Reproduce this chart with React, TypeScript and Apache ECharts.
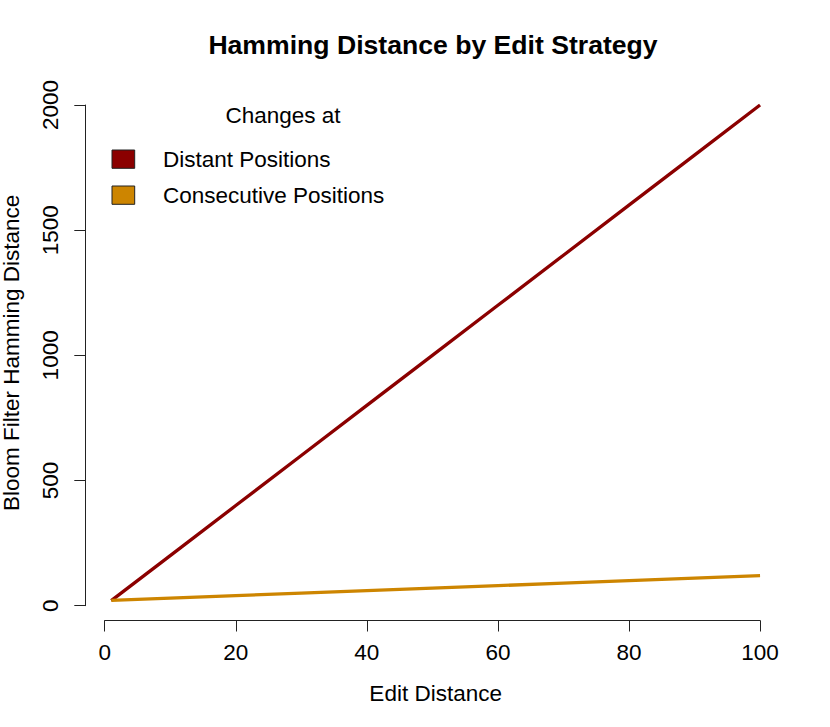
import React, { useEffect, useRef } from "react";
import * as echarts from "echarts";

const editDistance = [1, 10, 20, 30, 40, 50, 60, 70, 80, 90, 100];
const distantPositions = [20, 200, 400, 600, 800, 1000, 1200, 1400, 1600, 1800, 2000];
const consecutivePositions = [21, 30, 40, 50, 60, 70, 80, 90, 100, 110, 120];
const seriesNames = ["Distant Positions", "Consecutive Positions"];
const seriesColors = ["#8B0000", "#CD8500"];
const xTicks = [0, 20, 40, 60, 80, 100];
const yTicks = [0, 500, 1000, 1500, 2000];

const W = 830;
const H = 727;
const FONT = "'Liberation Sans', Arial, Helvetica, sans-serif";
const FS = 22.5;

export default function App() {
  const ref = useRef<HTMLDivElement>(null);
  useEffect(() => {
    if (!ref.current) return;
    const chart = echarts.init(ref.current, undefined, { renderer: "svg" });

    // R-style plot region: data range extended by 4% on each side
    const allY = distantPositions.concat(consecutivePositions);
    const xMinD = Math.min(...editDistance);
    const xMaxD = Math.max(...editDistance);
    const yMinD = Math.min(...allY);
    const yMaxD = Math.max(...allY);
    const xPad = (xMaxD - xMinD) * 0.04;
    const yPad = (yMaxD - yMinD) * 0.04;
    const xLo = xMinD - xPad;
    const xHi = xMaxD + xPad;
    const yLo = yMinD - yPad;
    const yHi = yMaxD + yPad;

    const plotL = 85.3;
    const plotR = 786;
    const plotT = 85.2;
    const plotB = 620.5;
    const px = (v: number) => plotL + ((v - xLo) / (xHi - xLo)) * (plotR - plotL);
    const py = (v: number) => plotB - ((v - yLo) / (yHi - yLo)) * (plotB - plotT);

    const xt0 = xTicks[0];
    const xt1 = xTicks[xTicks.length - 1];
    const yt0 = yTicks[0];
    const yt1 = yTicks[yTicks.length - 1];

    const axisLineStyle = { color: "#222", width: 1 };
    const labelStyle = { color: "#000", fontSize: FS, fontFamily: FONT };
    const gridBase = { outerBoundsMode: "none", containLabel: false };

    chart.setOption({
      animation: false,
      backgroundColor: "#fff",
      textStyle: { fontFamily: FONT },
      title: {
        text: "Hamming Distance by Edit Strategy",
        left: 428,
        textAlign: "center",
        top: 26,
        textStyle: { fontSize: 26.6, fontWeight: "bold", color: "#000", fontFamily: FONT },
      },
      grid: [
        { ...gridBase, left: plotL, right: W - plotR, top: plotT, bottom: H - plotB },
        { ...gridBase, left: px(xt0), right: W - px(xt1), top: plotT, bottom: H - plotB },
        { ...gridBase, left: plotL, right: W - plotR, top: py(yt1), bottom: H - py(yt0) },
      ],
      xAxis: [
        {
          gridIndex: 0,
          type: "value",
          min: xLo,
          max: xHi,
          axisLine: { show: false },
          axisTick: { show: false },
          axisLabel: { show: false },
          splitLine: { show: false },
          name: "Edit Distance",
          nameLocation: "middle",
          nameGap: 61,
          nameTextStyle: labelStyle,
        },
        {
          gridIndex: 1,
          type: "value",
          min: xt0,
          max: xt1,
          interval: xTicks[1] - xTicks[0],
          axisLine: { show: true, lineStyle: axisLineStyle },
          axisTick: { show: true, length: 11, lineStyle: axisLineStyle },
          axisLabel: { show: true, margin: 20, ...labelStyle, formatter: (v: number) => String(v) },
          splitLine: { show: false },
        },
        {
          gridIndex: 2,
          type: "value",
          show: false,
          min: 0,
          max: 1,
        },
      ],
      yAxis: [
        {
          gridIndex: 0,
          type: "value",
          min: yLo,
          max: yHi,
          axisLine: { show: false },
          axisTick: { show: false },
          axisLabel: { show: false },
          splitLine: { show: false },
          name: "Bloom Filter Hamming Distance",
          nameLocation: "middle",
          nameGap: 62,
          nameTextStyle: labelStyle,
        },
        {
          gridIndex: 1,
          type: "value",
          show: false,
          min: 0,
          max: 1,
        },
        {
          gridIndex: 2,
          type: "value",
          min: yt0,
          max: yt1,
          interval: yTicks[1] - yTicks[0],
          axisLine: { show: true, lineStyle: axisLineStyle },
          axisTick: { show: true, length: 11, lineStyle: axisLineStyle },
          axisLabel: { show: true, rotate: 90, margin: 23, ...labelStyle, formatter: (v: number) => String(v) },
          splitLine: { show: false },
        },
      ],
      series: [
        {
          name: seriesNames[0],
          type: "line",
          xAxisIndex: 0,
          yAxisIndex: 0,
          data: editDistance.map((x, i) => [x, distantPositions[i]]),
          showSymbol: false,
          lineStyle: { color: seriesColors[0], width: 3.3 },
          itemStyle: { color: seriesColors[0] },
        },
        {
          name: seriesNames[1],
          type: "line",
          xAxisIndex: 0,
          yAxisIndex: 0,
          data: editDistance.map((x, i) => [x, consecutivePositions[i]]),
          showSymbol: false,
          lineStyle: { color: seriesColors[1], width: 3.3 },
          itemStyle: { color: seriesColors[1] },
        },
      ],
      graphic: [
        {
          type: "text",
          x: 283,
          y: 115,
          style: {
            text: "Changes at",
            font: `${FS}px ${FONT}`,
            fill: "#000",
            textAlign: "center",
            textVerticalAlign: "middle",
          },
        },
        ...seriesNames.flatMap((name, i) => [
          {
            type: "rect",
            shape: { x: 112, y: 150 + i * 36, width: 22.7, height: 18.3 },
            style: { fill: seriesColors[i], stroke: "#222", lineWidth: 1 },
          },
          {
            type: "text",
            x: 163,
            y: 159 + i * 36,
            style: {
              text: name,
              font: `${FS}px ${FONT}`,
              fill: "#000",
              textAlign: "left",
              textVerticalAlign: "middle",
            },
          },
        ]),
      ],
    });
    return () => chart.dispose();
  }, []);
  return (
    <div
      ref={ref}
      style={{ position: "fixed", left: 0, top: 0, width: W, height: H }}
    />
  );
}
